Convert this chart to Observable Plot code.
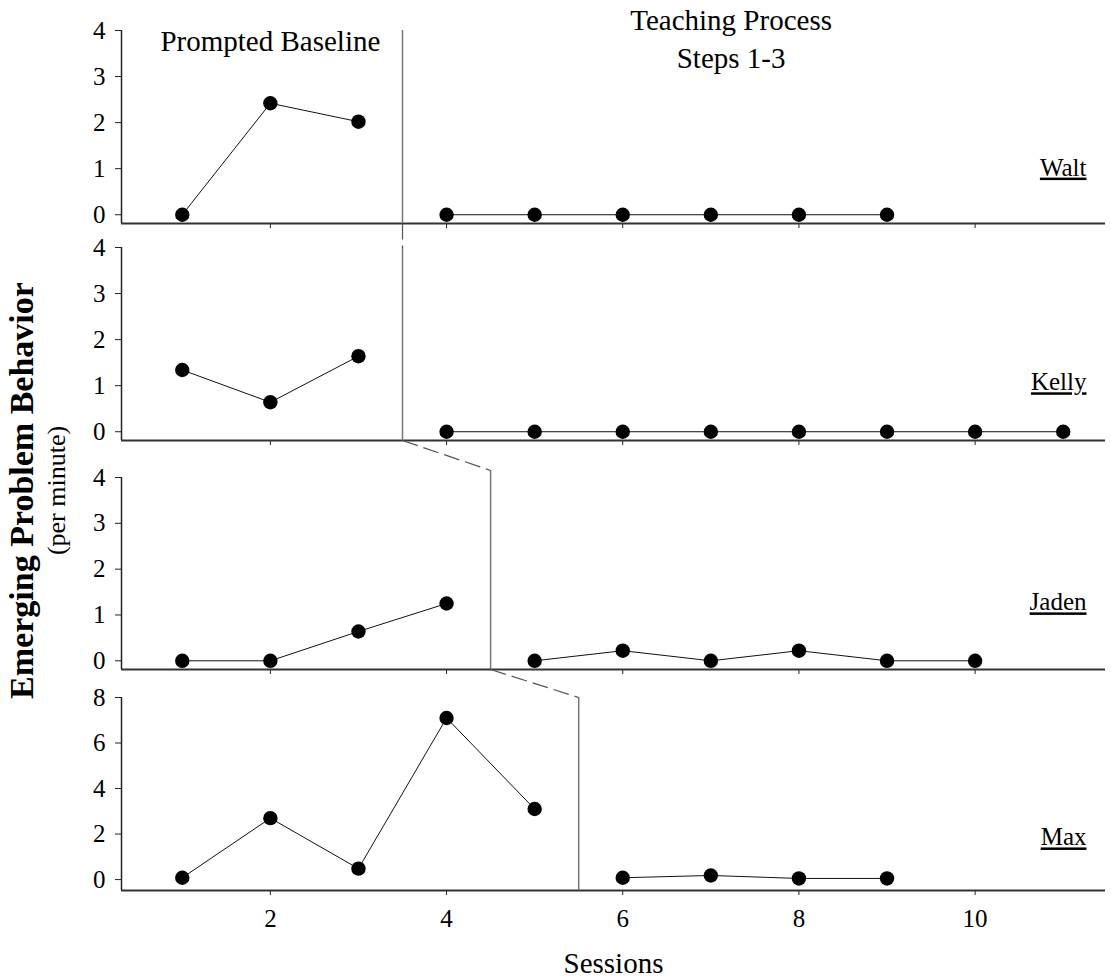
<!DOCTYPE html>
<html><head><meta charset="utf-8">
<script src="https://cdn.jsdelivr.net/npm/d3@7"></script>
<script src="https://cdn.jsdelivr.net/npm/@observablehq/plot@0.6"></script>
<style>
body{margin:0;background:#fff;}
#chart{position:relative;width:1111px;height:977px;background:#fff;}
#chart svg{position:absolute;left:0;top:0;}
</style></head><body><div id="chart"></div>
<script>
// ---- data ----
const participants = ["Walt", "Kelly", "Jaden", "Max"];
const waltSessions = [1, 2, 3, 4, 5, 6, 7, 8, 9];
const waltRate = [0, 2.42, 2.02, 0, 0, 0, 0, 0, 0];
const kellySessions = [1, 2, 3, 4, 5, 6, 7, 8, 9, 10, 11];
const kellyRate = [1.34, 0.64, 1.64, 0, 0, 0, 0, 0, 0, 0, 0];
const jadenSessions = [1, 2, 3, 4, 5, 6, 7, 8, 9, 10];
const jadenRate = [0, 0, 0.64, 1.25, 0, 0.22, 0, 0.22, 0, 0];
const maxSessions = [1, 2, 3, 4, 5, 6, 7, 8, 9];
const maxRate = [0.08, 2.7, 0.48, 7.1, 3.1, 0.08, 0.18, 0.05, 0.05];
const phaseChange = [3.5, 3.5, 4.5, 5.5];
const xTicks = [2, 4, 6, 8, 10];
const yTicks4 = [0, 1, 2, 3, 4];
const yTicks8 = [0, 2, 4, 6, 8];
const phaseLabels = ["Prompted Baseline", "Teaching Process\nSteps 1-3"];
const xTitle = "Sessions";
const yTitle = ["Emerging Problem Behavior", "(per minute)"];

// ---- layout ----
const W = 1111, H = 977;
const xDomain = [0.31, 11.48];
const layout = [
  {top: 30,  bottom: 223, yMin: -0.19, yMax: 4, ticks: yTicks4, nameY: 0.85},
  {top: 247, bottom: 440, yMin: -0.19, yMax: 4, ticks: yTicks4, nameY: 0.9},
  {top: 477, bottom: 669, yMin: -0.19, yMax: 4, ticks: yTicks4, nameY: 1.1},
  {top: 697, bottom: 890, yMin: -0.48, yMax: 8, ticks: yTicks8, nameY: 1.5}
];
const series = [
  [waltSessions, waltRate], [kellySessions, kellyRate],
  [jadenSessions, jadenRate], [maxSessions, maxRate]
];
const phaseTopPx = [30, 247, 470, 697];

const font = "'Liberation Serif', 'Times New Roman', serif";
const chart = document.getElementById("chart");

layout.forEach((L, i) => {
  const [ss, rr] = series[i];
  const phase = phaseChange[i];
  const rows = ss.map((s, j) => ({session: s, rate: rr[j], phase: s < phase ? "baseline" : "teaching"}));
  const inv = d3.scaleLinear().domain([L.bottom, L.top]).range([L.yMin, L.yMax]);
  const phaseTop = inv(phaseTopPx[i]);
  const marks = [
    Plot.ruleY([L.yMin], {stroke: "#333", strokeWidth: 2}),
    Plot.ruleX([{x: xDomain[0], y1: L.yMin, y2: L.yMax}], {x: "x", y1: "y1", y2: "y2", stroke: "#222", strokeWidth: 1.5}),
    Plot.ruleX([{x: phase, y1: L.yMin, y2: phaseTop}], {x: "x", y1: "y1", y2: "y2", stroke: "#777", strokeWidth: 1.5}),
    Plot.line(rows, {x: "session", y: "rate", z: "phase", stroke: "#111", strokeWidth: 1}),
    Plot.dot(rows, {x: "session", y: "rate", r: 7.2, fill: "#000", stroke: "none"}),
    Plot.text([participants[i]], {frameAnchor: "right", dx: -19, y: L.nameY, text: d => d, textAnchor: "end", lineAnchor: "bottom", fontSize: 25, fill: "#000"})
  ];
  if (i > 0) {
    const prev = layout[i - 1];
    const start = inv(prev.bottom);
    marks.push(Plot.link([{x1: phaseChange[i - 1], y1: start, x2: phase, y2: phaseTop}],
      {x1: "x1", y1: "y1", x2: "x2", y2: "y2", stroke: "#555", strokeWidth: 1.2, strokeDasharray: "16,6"}));
  }
  if (i === 0) {
    marks.push(Plot.text([phaseLabels[0]], {x: 2, frameAnchor: "top", dy: 20, lineAnchor: "bottom", text: d => d, fontSize: 29, fill: "#000"}));
    marks.push(Plot.text([phaseLabels[1]], {x: 7.23, frameAnchor: "top", dy: 37, lineAnchor: "bottom", lineHeight: 1.3, text: d => d, fontSize: 29, fill: "#000"}));
  }
  if (i === 1) {
    marks.push(Plot.text([yTitle[0]], {frameAnchor: "bottom-left", dx: -99, dy: 50, rotate: -90, text: d => d, lineAnchor: "middle", textAnchor: "middle", fontSize: 34, fontWeight: "bold", fill: "#000"}));
    marks.push(Plot.text([yTitle[1]], {frameAnchor: "bottom-left", dx: -65, dy: 50, rotate: -90, text: d => d, lineAnchor: "middle", textAnchor: "middle", fontSize: 26, fill: "#000"}));
  }
  if (i === 3) {
    marks.push(Plot.text([xTitle], {frameAnchor: "bottom", dy: 73, lineAnchor: "middle", text: d => d, fontSize: 29, fill: "#000"}));
  }
  const svg = Plot.plot({
    width: W, height: H,
    marginLeft: 121, marginRight: W - 1105,
    marginTop: L.top, marginBottom: H - L.bottom,
    style: {fontFamily: font, fontSize: "24px", background: "transparent", overflow: "visible", color: "#222"},
    x: {domain: xDomain, ticks: xTicks, tickSize: 5, tickPadding: 14, label: null,
        tickFormat: i === 3 ? (d => String(d)) : (() => "")},
    y: {domain: [L.yMin, L.yMax], ticks: L.ticks, tickSize: 6, tickPadding: 10, label: null, tickFormat: d => String(d)},
    marks
  });
  d3.select(svg).selectAll("g[aria-label*='axis'] text").style("font-size", "25px").style("fill", "#000");
  d3.select(svg).selectAll("text").each(function () {
    if (participants.includes(this.textContent)) this.style.textDecoration = "underline";
  });
  chart.appendChild(svg);
});
</script></body></html>
